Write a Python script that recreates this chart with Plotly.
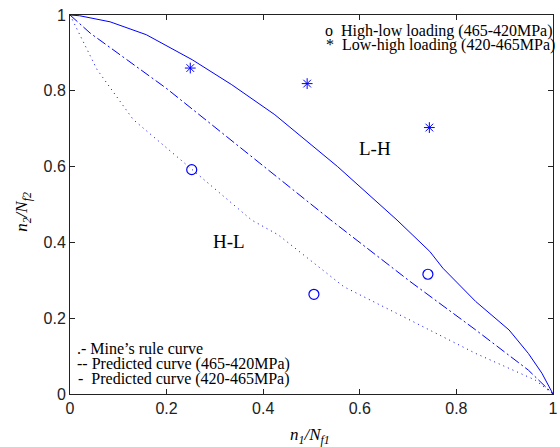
import plotly.graph_objects as go

# curves
miner_x = [0, 0.042, 0.199, 0.424, 0.54, 0.704, 0.84, 0.949, 0.984, 1]
miner_y = [1, 0.952, 0.807, 0.578, 0.459, 0.297, 0.169, 0.063, 0.019, 0]

hl_curve_x = [0, 0.028, 0.056, 0.131, 0.253, 0.376, 0.431, 0.567, 0.704, 0.84, 0.963, 1]
hl_curve_y = [1, 0.930, 0.856, 0.724, 0.592, 0.459, 0.420, 0.283, 0.195, 0.107, 0.037, 0]

lh_curve_x = [0, 0.02, 0.083, 0.117, 0.158, 0.253, 0.335, 0.424, 0.554, 0.677, 0.745, 0.772,
              0.840, 0.909, 0.949, 0.977, 1]
lh_curve_y = [1, 0.998, 0.982, 0.966, 0.948, 0.882, 0.816, 0.737, 0.600, 0.459, 0.376, 0.332,
              0.244, 0.169, 0.107, 0.055, 0]

# test points
hl_x = [0.252, 0.505, 0.741]
hl_y = [0.592, 0.263, 0.316]
lh_x = [0.249, 0.491, 0.744]
lh_y = [0.860, 0.819, 0.703]

serif = "Liberation Serif"
blue = "#0000ff"
nb = "\u00a0"

fig = go.Figure()
fig.add_trace(go.Scatter(x=miner_x, y=miner_y, mode="lines", name="Mine's rule curve",
                         line=dict(color=blue, width=1, dash="10px,3px,2px,3px")))
fig.add_trace(go.Scatter(x=hl_curve_x, y=hl_curve_y, mode="lines", name="Predicted curve (465-420MPa)",
                         line=dict(color=blue, width=1, dash="1px,4px")))
fig.add_trace(go.Scatter(x=lh_curve_x, y=lh_curve_y, mode="lines", name="Predicted curve (420-465MPa)",
                         line=dict(color=blue, width=1)))
fig.add_trace(go.Scatter(x=hl_x, y=hl_y, mode="markers", name="High-low loading (465-420MPa)",
                         marker=dict(symbol="circle-open", size=10, color=blue, line=dict(width=1.2, color=blue))))
fig.add_trace(go.Scatter(x=lh_x, y=lh_y, mode="markers", name="Low-high loading (420-465MPa)",
                         marker=dict(symbol="asterisk-open", size=9, color=blue, line=dict(width=1, color=blue))))

txt = dict(family=serif, size=16, color="black")
notes = [
    (0.523, 0.959, "o" + nb * 2 + "High-low loading (465-420MPa)"),
    (0.525, 0.920, "*" + nb * 2 + "Low-high loading (420-465MPa)"),
    (0.011, 0.119, ".-" + nb + "Mine\u2019s rule curve"),
    (0.011, 0.079, "--" + nb + "Predicted curve (465-420MPa)"),
    (0.013, 0.040, "-" + nb * 2 + "Predicted curve (420-465MPa)"),
]
for x, y, t in notes:
    fig.add_annotation(x=x, y=y, text=t, showarrow=False, xanchor="left", yanchor="middle", font=txt)
fig.add_annotation(x=0.632, y=0.649, text="L-H", showarrow=False, font=dict(family=serif, size=19, color="black"))
fig.add_annotation(x=0.330, y=0.402, text="H-L", showarrow=False, font=dict(family=serif, size=19, color="black"))

# axis titles
lab = dict(family=serif, size=17, color="black")
fig.add_annotation(x=0.496, y=-0.111, xref="paper", yref="paper", showarrow=False, font=lab,
                   xanchor="center", yanchor="middle",
                   text="<i>n</i><sub><i>1</i></sub><i>/N</i><sub><i>f1</i></sub>")
fig.add_annotation(x=-0.097, y=0.481, xref="paper", yref="paper", showarrow=False, font=lab, textangle=-90,
                   xanchor="center", yanchor="middle",
                   text="<i>n</i><sub><i>2</i></sub><i>/N</i><sub><i>f2</i></sub>")

ax = dict(range=[0, 1], showgrid=False, zeroline=False, showline=True, linecolor="#222", linewidth=1,
          mirror="ticks", ticks="inside", ticklen=5, tickcolor="#222", dtick=0.2,
          ticklabeloverflow="allow", tickfont=dict(family="Liberation Sans", size=16, color="#222"))
fig.update_xaxes(**ax)
fig.update_yaxes(**ax)
fig.update_layout(width=560, height=447, margin=dict(l=70, r=2, t=15, b=53),
                  plot_bgcolor="white", paper_bgcolor="white", showlegend=False)
fig.write_html("out.html", config={"displayModeBar": False},
               post_script="document.body.style.margin='0';document.body.style.overflow='hidden';")
